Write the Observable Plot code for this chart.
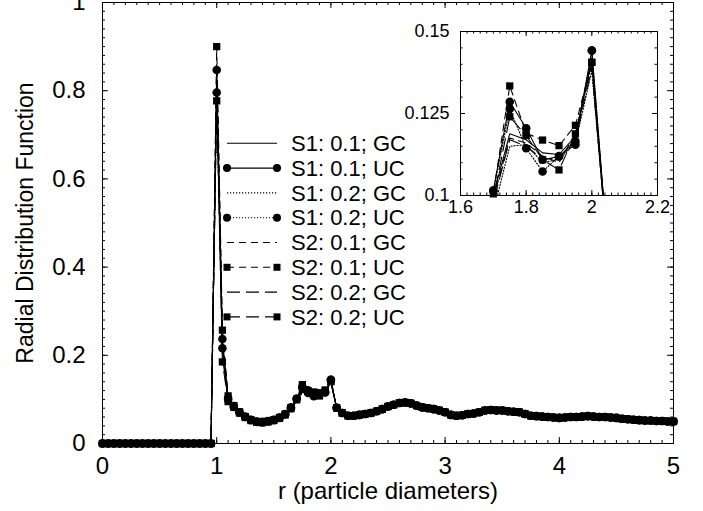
<!DOCTYPE html>
<html><head><meta charset="utf-8">
<script src="https://cdn.jsdelivr.net/npm/d3@7"></script>
<script src="https://cdn.jsdelivr.net/npm/@observablehq/plot@0.6"></script>
<style>
body{margin:0;background:#fff;}
#wrap{position:relative;width:703px;height:511px;font-family:"Liberation Sans",Arial,sans-serif;}
#wrap svg{position:absolute;}
</style></head><body><div id="wrap"></div>
<script>
// ---------- data ----------
const rZero = [0,0.05,0.1,0.15,0.2,0.25,0.3,0.35,0.4,0.45,0.5,0.55,0.6,0.65,0.7,0.75,0.8,0.85,0.9,0.95];
const gZero = [0,0,0,0,0,0,0,0,0,0,0,0,0,0,0,0,0,0,0,0];
const rHead = [1,1.05,1.1,1.15,1.2,1.25,1.3,1.35,1.4,1.45,1.5,1.55,1.6,1.65,1.7,1.75,1.8,1.85,1.9,1.95,2];
const rTail = [2.05,2.1,2.15,2.2,2.25,2.3,2.35,2.4,2.45,2.5,2.55,2.6,2.65,2.7,2.75,2.8,2.85,2.9,2.95,3,
  3.05,3.1,3.15,3.2,3.25,3.3,3.35,3.4,3.45,3.5,3.55,3.6,3.65,3.7,3.75,3.8,3.85,3.9,3.95,4,
  4.05,4.1,4.15,4.2,4.25,4.3,4.35,4.4,4.45,4.5,4.55,4.6,4.65,4.7,4.75,4.8,4.85,4.9,4.95,5];
const gTail = [0.081,0.069,0.063,0.063,0.065,0.067,0.069,0.073,0.078,0.084,0.088,0.092,0.093,0.091,0.086,0.082,0.080,0.078,0.075,0.071,
  0.065,0.063,0.064,0.067,0.068,0.071,0.075,0.076,0.075,0.075,0.073,0.072,0.071,0.067,0.063,0.062,0.061,0.060,0.059,0.058,
  0.059,0.060,0.060,0.061,0.062,0.061,0.060,0.060,0.059,0.058,0.056,0.055,0.054,0.053,0.052,0.052,0.051,0.051,0.050,0.050];

const headS1_01_GC = [0.830,0.225,0.100,0.084,0.070,0.060,0.053,0.049,0.048,0.050,0.053,0.058,0.066,0.080,0.1000,0.1188,0.1170,0.1130,0.1125,0.1180,0.1420];
const headS1_01_UC = [0.847,0.237,0.103,0.085,0.071,0.061,0.054,0.050,0.049,0.051,0.054,0.059,0.067,0.082,0.1016,0.1286,0.1205,0.1109,0.1119,0.1165,0.1442];
const headS1_02_GC = [0.800,0.210,0.098,0.082,0.069,0.059,0.052,0.048,0.047,0.049,0.052,0.057,0.065,0.078,0.0950,0.1150,0.1155,0.1100,0.1110,0.1160,0.1380];
const headS1_02_UC = [0.796,0.216,0.099,0.083,0.070,0.060,0.053,0.049,0.048,0.050,0.053,0.058,0.066,0.080,0.1013,0.1264,0.1144,0.1073,0.1120,0.1155,0.1442];
const headS2_01_GC = [0.860,0.240,0.104,0.084,0.070,0.060,0.053,0.049,0.048,0.050,0.053,0.058,0.066,0.080,0.0990,0.1175,0.1160,0.1120,0.1100,0.1190,0.1400];
const headS2_01_UC = [0.900,0.257,0.108,0.086,0.072,0.061,0.054,0.050,0.049,0.051,0.054,0.059,0.067,0.081,0.1005,0.1334,0.1190,0.1169,0.1152,0.1214,0.1406];
const headS2_02_GC = [0.790,0.200,0.096,0.082,0.069,0.059,0.052,0.048,0.047,0.049,0.052,0.057,0.065,0.079,0.0980,0.1170,0.1150,0.1110,0.1115,0.1170,0.1390];
const headS2_02_UC = [0.777,0.185,0.095,0.082,0.069,0.059,0.052,0.048,0.047,0.049,0.052,0.057,0.065,0.079,0.0990,0.1240,0.1183,0.1109,0.1078,0.1188,0.1406];

const seriesNames = ["S1: 0.1; GC","S1: 0.1; UC","S1: 0.2; GC","S1: 0.2; UC","S2: 0.1; GC","S2: 0.1; UC","S2: 0.2; GC","S2: 0.2; UC"];
const seriesHeads = [headS1_01_GC,headS1_01_UC,headS1_02_GC,headS1_02_UC,headS2_01_GC,headS2_01_UC,headS2_02_GC,headS2_02_UC];
const seriesMarker = [null,"circle",null,"circle",null,"square",null,"square"];
const seriesDash = ["none","none","1.2,1.8","1.2,1.8","7,5","7,5","13,6","13,6"];

const xTicks = [0,1,2,3,4,5];
const xTickLabels = ["0","1","2","3","4","5"];
const yTicks = [0,0.2,0.4,0.6,0.8,1];
const yTickLabels = ["0","0.2","0.4","0.6","0.8","1"];
const xTitle = "r (particle diameters)";
const yTitle = "Radial Distribution Function";

const insetXTicks = [1.6,1.8,2,2.2];
const insetXTickLabels = ["1.6","1.8","2","2.2"];
const insetYTicks = [0.1,0.125,0.15];
const insetYTickLabels = ["0.1","0.125","0.15"];

// ---------- build table ----------
const rAll = rZero.concat(rHead, rTail);
const series = seriesNames.map((name, k) => {
  const gAll = gZero.concat(seriesHeads[k], gTail);
  return rAll.map((r, i) => ({r, g: gAll[i], s: name}));
});

const FONT = '"Liberation Sans", Arial, sans-serif';
const W = 703, H = 511, mL = 102, mR = 30, mT = 2, mB = 68;
const fh = H - mT - mB, fw = W - mL - mR;
const xMinor = d3.range(0, 51).map(i => i / 10);
const yMinor = d3.range(0, 51).map(i => i / 50);

function seriesMarks(filterFn, clip) {
  const lines = series.map((rows, k) => Plot.line(rows, {
    x: "r", y: "g", stroke: "black", strokeWidth: 1.1,
    strokeDasharray: seriesDash[k], clip
  }));
  const dots = [];
  series.forEach((rows, k) => {
    if (!seriesMarker[k]) return;
    dots.push(Plot.dot(rows, {
      x: "r", y: "g", fill: "black", stroke: "none",
      symbol: seriesMarker[k], r: seriesMarker[k] === "circle" ? 4.3 : 4.1,
      filter: filterFn
    }));
  });
  return lines.concat(dots);
}

const main = Plot.plot({
  width: W, height: H, marginLeft: mL, marginRight: mR, marginTop: mT, marginBottom: mB,
  style: {fontFamily: FONT, color: "black", background: "transparent"},
  x: {domain: [0, 5]},
  y: {domain: [0, 1]},
  marks: [
    Plot.ruleX(xMinor, {x: d => d, insetTop: fh - 3, stroke: "black"}),
    Plot.ruleX(xMinor, {x: d => d, insetBottom: fh - 3, stroke: "black"}),
    Plot.ruleX(xTicks, {x: d => d, insetTop: fh - 6, stroke: "black"}),
    Plot.ruleX(xTicks, {x: d => d, insetBottom: fh - 6, stroke: "black"}),
    Plot.ruleY(yMinor, {y: d => d, insetRight: fw - 3, stroke: "black"}),
    Plot.ruleY(yMinor, {y: d => d, insetLeft: fw - 3, stroke: "black"}),
    Plot.ruleY(yTicks, {y: d => d, insetRight: fw - 6, stroke: "black"}),
    Plot.ruleY(yTicks, {y: d => d, insetLeft: fw - 6, stroke: "black"}),
    Plot.axisX({ticks: xTicks, tickFormat: d => xTickLabels[xTicks.indexOf(d)], tickSize: 0, tickPadding: 13, fontSize: 24, label: null}),
    Plot.axisY({ticks: yTicks, tickFormat: d => yTickLabels[yTicks.indexOf(d)], tickSize: 0, tickPadding: 17, fontSize: 24, label: null}),
    Plot.text([xTitle], {text: d => d, frameAnchor: "bottom", dy: 55, fontSize: 24}),
    Plot.text([yTitle], {text: d => d, frameAnchor: "left", textAnchor: "middle", dx: -77, rotate: -90, fontSize: 23}),
    ...seriesMarks(null, false),
    Plot.frame({stroke: "black", strokeWidth: 1})
  ]
});
main.style.left = "0px"; main.style.top = "0px";
document.getElementById("wrap").appendChild(main);

// ---------- legend ----------
const leg = d3.select("#wrap").append("svg")
  .attr("width", W).attr("height", H).style("left", "0px").style("top", "0px")
  .style("pointer-events", "none");
const legY0 = 143.3, legStep = 24.8, legX1 = 227, legX2 = 277, legTX = 291;
seriesNames.forEach((name, k) => {
  const y = legY0 + k * legStep;
  leg.append("line").attr("x1", legX1).attr("x2", legX2).attr("y1", y).attr("y2", y)
    .attr("stroke", "black").attr("stroke-width", 1.1)
    .attr("stroke-dasharray", seriesDash[k]);
  if (seriesMarker[k] === "circle") {
    [legX1, legX2].forEach(x => leg.append("circle").attr("cx", x).attr("cy", y).attr("r", 4).attr("fill", "black"));
  } else if (seriesMarker[k] === "square") {
    [legX1, legX2].forEach(x => leg.append("rect").attr("x", x - 3.5).attr("y", y - 3.5).attr("width", 7).attr("height", 7).attr("fill", "black"));
  }
  leg.append("text").attr("x", legTX).attr("y", y).attr("dy", "0.35em")
    .attr("font-family", FONT).attr("font-size", 22).attr("fill", "black").text(name);
});

// ---------- inset ----------
const iW = 290, iH = 210, imL = 60, imR = 33, imT = 16, imB = 30;
const ifh = iH - imT - imB, ifw = iW - imL - imR;
const iXMinor = d3.range(0, 31).map(i => 1.6 + i * 0.02);
const iYMinor = d3.range(0, 11).map(i => 0.1 + i * 0.005);
const inset = Plot.plot({
  width: iW, height: iH, marginLeft: imL, marginRight: imR, marginTop: imT, marginBottom: imB,
  style: {fontFamily: FONT, color: "black", background: "transparent"},
  x: {domain: [1.6, 2.2]},
  y: {domain: [0.1, 0.15]},
  marks: [
    Plot.ruleX(iXMinor, {x: d => d, insetTop: ifh - 2.5, stroke: "black"}),
    Plot.ruleX(iXMinor, {x: d => d, insetBottom: ifh - 2.5, stroke: "black"}),
    Plot.ruleX(insetXTicks, {x: d => d, insetTop: ifh - 5, stroke: "black"}),
    Plot.ruleX(insetXTicks, {x: d => d, insetBottom: ifh - 5, stroke: "black"}),
    Plot.ruleY(iYMinor, {y: d => d, insetRight: ifw - 2.5, stroke: "black"}),
    Plot.ruleY(iYMinor, {y: d => d, insetLeft: ifw - 2.5, stroke: "black"}),
    Plot.ruleY(insetYTicks, {y: d => d, insetRight: ifw - 5, stroke: "black"}),
    Plot.ruleY(insetYTicks, {y: d => d, insetLeft: ifw - 5, stroke: "black"}),
    Plot.axisX({ticks: insetXTicks, tickFormat: d => insetXTickLabels[insetXTicks.indexOf(d)], tickSize: 0, tickPadding: 5, fontSize: 18, label: null}),
    Plot.axisY({ticks: insetYTicks, tickFormat: d => insetYTickLabels[insetYTicks.indexOf(d)], tickSize: 0, tickPadding: 11, fontSize: 18, label: null}),
    ...seriesMarks(d => d.r >= 1.6 && d.r <= 2.2 && d.g >= 0.1 && d.g <= 0.15, true),
    Plot.frame({stroke: "black", strokeWidth: 1})
  ]
});
inset.style.left = "400px"; inset.style.top = "15px";
document.getElementById("wrap").appendChild(inset);
</script></body></html>
